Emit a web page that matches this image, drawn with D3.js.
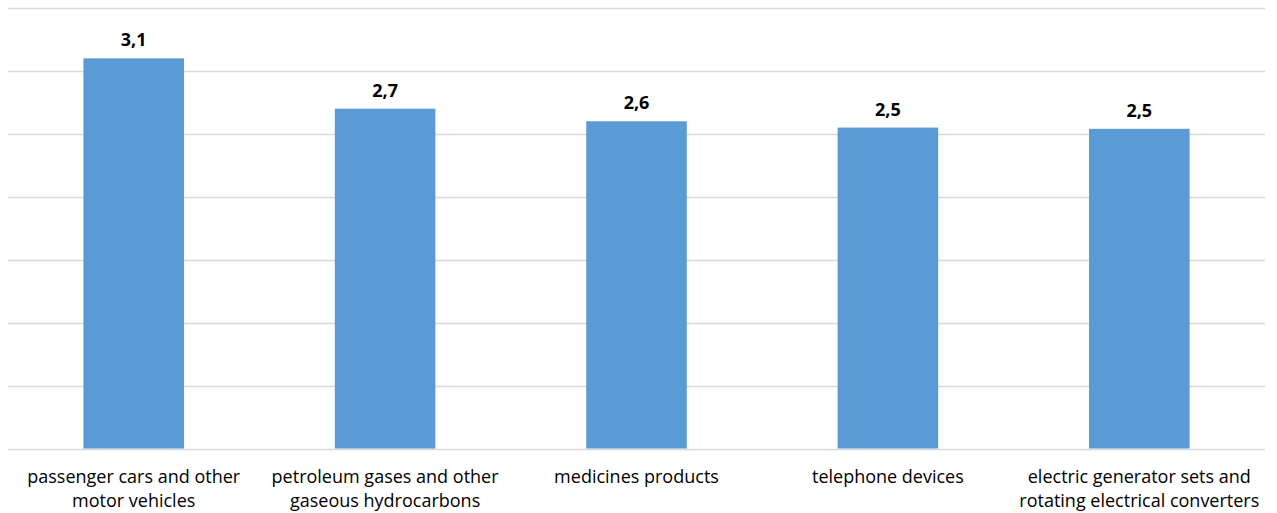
<!DOCTYPE html>
<html>
<head>
<meta charset="utf-8">
<script src="https://cdn.jsdelivr.net/npm/d3@7"></script>
<style>
  body { margin: 0; background: #fff; }
  svg { display: block; font-family: "Open Sans", "Liberation Sans", sans-serif; }
</style>
</head>
<body>
<div id="chart"></div>
<script>
const categories = [
    ["passenger cars and other", "motor vehicles"],
    ["petroleum gases and other", "gaseous hydrocarbons"],
    ["medicines products"],
    ["telephone devices"],
    ["electric generator sets and", "rotating electrical converters"]
];
const values = [3.1, 2.7, 2.6, 2.55, 2.54];
const valueLabels = ["3,1", "2,7", "2,6", "2,5", "2,5"];
const gridTicks = [0, 0.5, 1, 1.5, 2, 2.5, 3, 3.5];

const width = 1277;
const height = 513;
const margin = { top: 8, right: 12, bottom: 64, left: 8 };

const svg = d3.select("#chart").append("svg").attr("width", width).attr("height", height);

const data = categories.map((c, i) => ({ key: i, lines: c, value: values[i], label: valueLabels[i] }));

const xScale = d3.scaleBand().domain(data.map(d => d.key)).range([margin.left, width - margin.right]).paddingInner(0.6).paddingOuter(0.3);
const yScale = d3.scaleLinear().domain([0, 3.5]).range([height - margin.bottom - 0.5, margin.top]);

// gridlines
svg.append("g").selectAll("line").data(gridTicks).enter().append("line")
    .attr("x1", margin.left).attr("x2", width - margin.right)
    .attr("y1", d => Math.round(yScale(d)) + 0.5).attr("y2", d => Math.round(yScale(d)) + 0.5)
    .attr("stroke", "#d9d9d9").attr("stroke-width", 1.5);

svg.append("g").selectAll("rect").data(data).enter().append("rect")
    .attr("x", d => xScale(d.key)).attr("y", d => yScale(d.value))
    .attr("width", xScale.bandwidth()).attr("height", d => yScale(0) - yScale(d.value))
    .attr("fill", "#5b9bd5");

svg.append("g").selectAll("text").data(data).enter().append("text")
    .attr("x", d => xScale(d.key) + xScale.bandwidth() / 2).attr("y", d => yScale(d.value) - 12)
    .attr("text-anchor", "middle").attr("font-size", 18).attr("font-weight", "bold").attr("fill", "#000")
    .text(d => d.label);

const cat = svg.append("g").selectAll("text").data(data).enter().append("text")
    .attr("x", d => xScale(d.key) + xScale.bandwidth() / 2).attr("y", 483)
    .attr("text-anchor", "middle").attr("font-size", 18).attr("fill", "#000");
cat.selectAll("tspan").data(d => d.lines.map(l => ({ l, x: xScale(d.key) + xScale.bandwidth() / 2 }))).enter().append("tspan")
    .attr("x", d => d.x).attr("dy", (d, i) => i === 0 ? 0 : 24).text(d => d.l);
</script>
</body>
</html>
